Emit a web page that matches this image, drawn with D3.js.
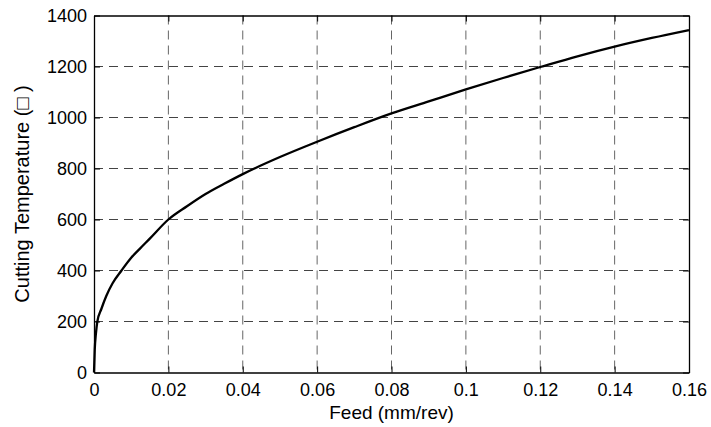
<!DOCTYPE html>
<html>
<head>
<meta charset="utf-8">
<script src="https://cdn.jsdelivr.net/npm/d3@7"></script>
<style>
  body { margin: 0; background: #fff; }
  svg text { font-family: "Liberation Sans", Arial, sans-serif; fill: #000; }
</style>
</head>
<body>
<div id="chart"></div>
<script>
// values
const feed = [0, 0.0002, 0.0005, 0.0009, 0.002, 0.0033, 0.005, 0.0074, 0.01, 0.0123, 0.015,
              0.02, 0.025, 0.03, 0.035, 0.04, 0.05, 0.06, 0.07, 0.08, 0.09, 0.1,
              0.11, 0.12, 0.13, 0.14, 0.15, 0.16];
const temperature = [0, 90, 150, 200, 250, 300, 350, 400, 450, 485, 525,
                     600, 652, 700, 740, 778, 845, 905, 962, 1016, 1063, 1110,
                     1155, 1198, 1240, 1278, 1312, 1343];
const xTicks = [0, 0.02, 0.04, 0.06, 0.08, 0.1, 0.12, 0.14, 0.16];
const yTicks = [0, 200, 400, 600, 800, 1000, 1200, 1400];
const xLabel = "Feed (mm/rev)";
const yLabel = "Cutting Temperature (\u25A1 )";

const width = 711, height = 427;
const margin = {top: 15.5, right: 22, bottom: 54.5, left: 94};
const w = width - margin.left - margin.right;
const h = height - margin.top - margin.bottom;

let svg = d3.select("#chart").append("svg")
    .attr("width", width)
    .attr("height", height);

let g = svg.append("g")
    .attr("transform", `translate(${margin.left},${margin.top})`);

let x = d3.scaleLinear().domain([0, 0.16]).range([0, w]);
let y = d3.scaleLinear().domain([0, 1400]).range([h, 0]);

// dashed grid
g.append("g").selectAll("line")
    .data(xTicks.slice(1, -1))
    .enter().append("line")
    .attr("x1", d => x(d)).attr("x2", d => x(d))
    .attr("y1", 0).attr("y2", h)
    .attr("stroke", "#666").attr("stroke-width", 1)
    .attr("stroke-dasharray", "9,6");

g.append("g").selectAll("line")
    .data(yTicks.slice(1, -1))
    .enter().append("line")
    .attr("x1", 0).attr("x2", w)
    .attr("y1", d => y(d)).attr("y2", d => y(d))
    .attr("stroke", "#444").attr("stroke-width", 1)
    .attr("stroke-dasharray", "9,6");

// axes with inward ticks
g.append("g")
    .attr("transform", `translate(0,${h})`)
    .call(d3.axisBottom(x).tickValues(xTicks).tickSizeInner(-6).tickSizeOuter(0).tickPadding(11)
        .tickFormat(d => String(+d.toFixed(2))));
g.append("g")
    .call(d3.axisLeft(y).tickValues(yTicks).tickSizeInner(-6).tickSizeOuter(0).tickPadding(7)
        .tickFormat(d3.format("d")));
g.append("g")
    .call(d3.axisTop(x).tickValues(xTicks).tickSizeInner(-6).tickSizeOuter(0).tickFormat(""));
g.append("g")
    .attr("transform", `translate(${w},0)`)
    .call(d3.axisRight(y).tickValues(yTicks).tickSizeInner(-6).tickSizeOuter(0).tickFormat(""));

g.selectAll(".domain").attr("stroke", "#000").attr("stroke-width", 1.3);
g.selectAll(".tick line").attr("stroke", "#000");
g.selectAll(".tick text").attr("font-size", 18).attr("fill", "#000");

// curve
let line = d3.line()
    .x((d, i) => x(feed[i]))
    .y(d => y(d))
    .curve(d3.curveMonotoneX);

g.append("path")
    .datum(temperature)
    .attr("d", line)
    .attr("fill", "none")
    .attr("stroke", "#000")
    .attr("stroke-width", 2.3)
    .attr("stroke-linejoin", "round");

// labels
svg.append("text")
    .attr("x", margin.left + w / 2)
    .attr("y", 419)
    .attr("text-anchor", "middle")
    .attr("font-size", 19)
    .text(xLabel);

svg.append("text")
    .attr("transform", `translate(29,${margin.top + h / 2}) rotate(-90)`)
    .attr("text-anchor", "middle")
    .attr("font-size", 20)
    .text(yLabel);
</script>
</body>
</html>
